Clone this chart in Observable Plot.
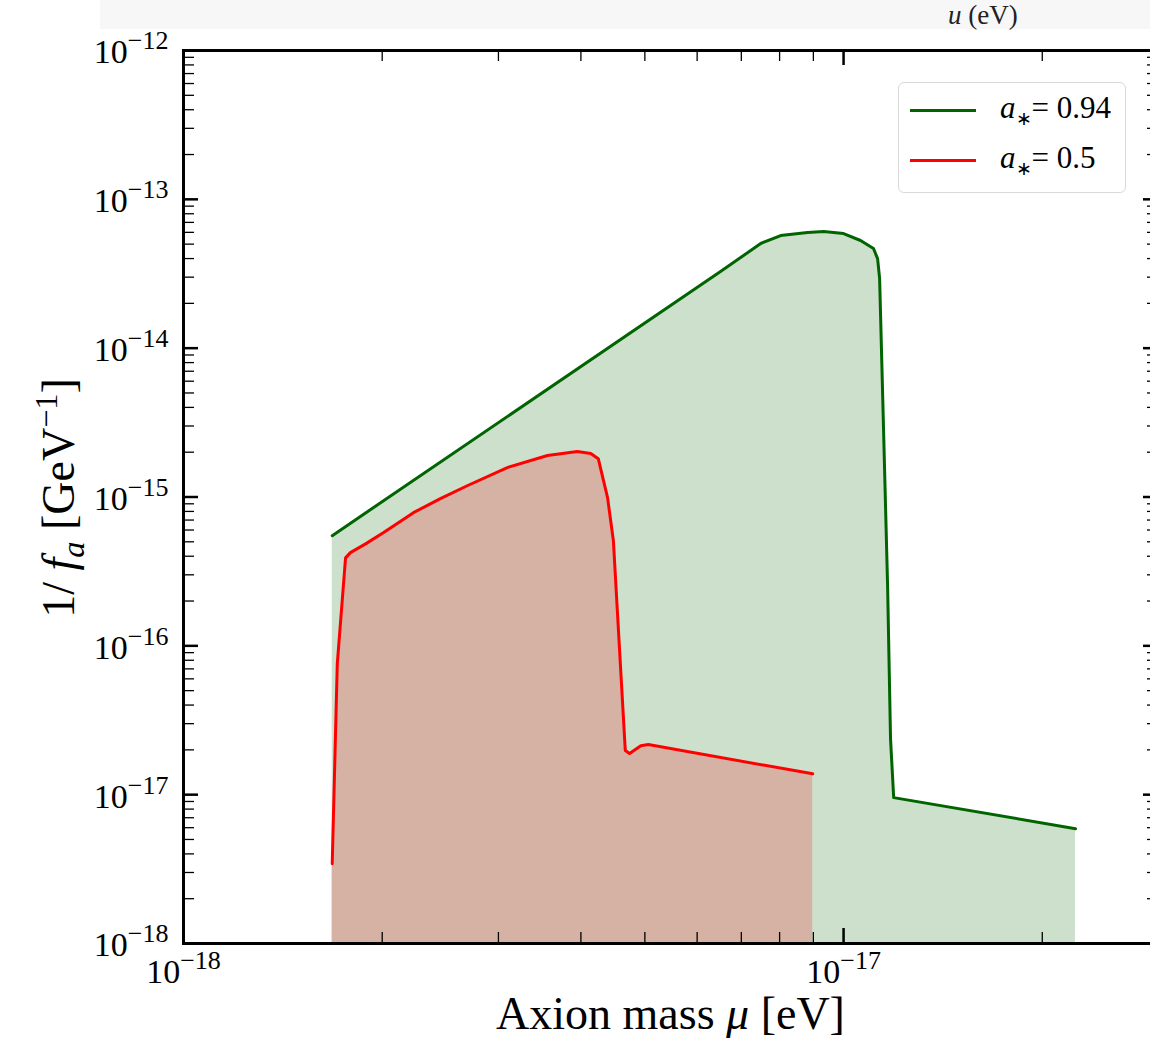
<!DOCTYPE html>
<html><head><meta charset="utf-8">
<script src="https://cdn.jsdelivr.net/npm/d3@7"></script>
<script src="https://cdn.jsdelivr.net/npm/@observablehq/plot@0.6"></script>
<style>
html,body{margin:0;padding:0;background:#fff;overflow:hidden;width:1150px;height:1038px;}
#wrap{position:relative;width:1150px;height:1038px;overflow:hidden;font-family:"Liberation Serif",serif;color:#000;}
#chart{position:absolute;left:0;top:0;width:1160px;}
#chart svg{max-width:none !important;}
#band{position:absolute;left:100px;top:0;width:1050px;height:29px;background:#f7f7f7;}
#band span{position:absolute;left:848px;top:2px;font-size:27px;line-height:27px;color:#222;}
#xtitle{position:absolute;left:0;width:1341px;top:994px;text-align:center;font-size:46px;line-height:40px;white-space:nowrap;}
#ytitle{position:absolute;left:58px;top:498px;transform:translate(-50%,-50%) rotate(-90deg);font-size:46px;white-space:nowrap;}
#legend{position:absolute;left:898px;top:82px;width:228px;height:111px;border:1px solid #d9d9d9;border-radius:6px;background:rgba(255,255,255,0.85);box-sizing:border-box;}
.entry{position:absolute;left:0;height:40px;width:227px;}
.swatch{position:absolute;left:11px;width:66px;height:0;border-top:3px solid;}
.ltext{position:absolute;left:101px;font-size:31px;white-space:nowrap;}
sub,sup{line-height:0;}
</style></head><body>
<div id="wrap">
  <div id="band"><span><i>u</i> (eV)</span></div>
  <div id="chart"></div>
  <div id="xtitle">Axion mass <i>μ</i> [eV]</div>
  <div id="ytitle">1/ <i>f</i><sub style="font-size:0.7em"><i>a</i></sub> [GeV<sup style="font-size:0.7em">−1</sup>]</div>
  <div id="legend"></div>
</div>
<script>
// ---- data ----
const spinLabels = ["0.94", "0.5"];
const lineColors = ["#006400", "#ff0000"];
const fillColors = ["#cde0cc", "#d5b2a3"];

// a* = 0.94
const massA094 = [1.68e-18, 6.51e-18, 7.49e-18, 8.03e-18, 8.82e-18, 9.33e-18, 1.0e-17, 1.061e-17, 1.110e-17, 1.126e-17, 1.134e-17, 1.150e-17, 1.166e-17, 1.178e-17, 1.191e-17, 2.246e-17];
const invFaA094 = [5.5e-16, 3.27e-14, 5.05e-14, 5.71e-14, 5.98e-14, 6.08e-14, 5.89e-14, 5.29e-14, 4.67e-14, 4.00e-14, 2.94e-14, 2.71e-15, 2.54e-16, 2.38e-17, 9.55e-18, 5.91e-18];

// a* = 0.5
const massA05 = [1.68e-18, 1.71e-18, 1.76e-18, 1.79e-18, 1.89e-18, 2.01e-18, 2.23e-18, 2.45e-18, 2.69e-18, 3.10e-18, 3.56e-18, 3.95e-18, 4.14e-18, 4.25e-18, 4.39e-18, 4.48e-18, 4.59e-18, 4.67e-18, 4.74e-18, 4.93e-18, 5.06e-18, 8.98e-18];
const invFaA05 = [3.44e-18, 7.6e-17, 3.9e-16, 4.23e-16, 4.86e-16, 5.77e-16, 7.85e-16, 9.75e-16, 1.19e-15, 1.58e-15, 1.90e-15, 2.02e-15, 1.96e-15, 1.81e-15, 9.9e-16, 5.09e-16, 7.6e-17, 1.98e-17, 1.89e-17, 2.13e-17, 2.17e-17, 1.38e-17];

// axis ticks
const xDomain = [1e-18, 3e-17];
const yDomain = [1e-18, 1e-12];
const xMajor = [1e-18, 1e-17];
const xMinor = [2e-18, 3e-18, 4e-18, 5e-18, 6e-18, 7e-18, 8e-18, 9e-18, 2e-17];
const yMajor = [1e-18, 1e-17, 1e-16, 1e-15, 1e-14, 1e-13, 1e-12];
const yMinorMantissa = [2, 3, 4, 5, 6, 7, 8, 9];
const yMinorDecades = [-18, -17, -16, -15, -14, -13];

// ---- build ----
const yMinor = yMinorDecades.flatMap(k => yMinorMantissa.map(m => +(m + "e" + k)));
const high = massA094.map((x, i) => ({x, y: invFaA094[i]}));
const low = massA05.map((x, i) => ({x, y: invFaA05[i]}));

const W = 1160, H = 1038, mL = 183, mR = 2, mT = 50, mB = 95;
const FW = W - mL - mR, FH = H - mT - mB;
const majLen = 15, minLen = 11;

const plot = Plot.plot({
  width: W, height: H,
  marginLeft: mL, marginRight: mR, marginTop: mT, marginBottom: mB,
  style: {fontFamily: "Liberation Serif, serif", fontSize: "34px", background: "transparent", overflow: "visible", maxWidth: "none"},
  x: {type: "log", domain: xDomain, label: null},
  y: {type: "log", domain: yDomain, label: null},
  marks: [
    Plot.areaY(high, {x: "x", y1: 1e-18, y2: "y", fill: fillColors[0]}),
    Plot.areaY(low, {x: "x", y1: 1e-18, y2: "y", fill: fillColors[1]}),
    Plot.line(high, {x: "x", y: "y", stroke: lineColors[0], strokeWidth: 3}),
    Plot.line(low, {x: "x", y: "y", stroke: lineColors[1], strokeWidth: 3}),
    // inward ticks: bottom/top
    Plot.ruleX(xMajor, {x: d => d, insetTop: FH - majLen, stroke: "black", strokeWidth: 2.5}),
    Plot.ruleX(xMinor, {x: d => d, insetTop: FH - minLen, stroke: "black", strokeWidth: 1.3}),
    Plot.ruleX(xMajor, {x: d => d, insetBottom: FH - majLen, stroke: "black", strokeWidth: 2.5}),
    Plot.ruleX(xMinor, {x: d => d, insetBottom: FH - minLen, stroke: "black", strokeWidth: 1.3}),
    // inward ticks: left/right
    Plot.ruleY(yMajor, {y: d => d, insetRight: FW - majLen, stroke: "black", strokeWidth: 2.5}),
    Plot.ruleY(yMinor, {y: d => d, insetRight: FW - minLen, stroke: "black", strokeWidth: 1.3}),
    Plot.ruleY(yMajor, {y: d => d, insetLeft: FW - majLen, stroke: "black", strokeWidth: 2.5}),
    Plot.ruleY(yMinor, {y: d => d, insetLeft: FW - minLen, stroke: "black", strokeWidth: 1.3}),
    Plot.axisX({ticks: xMajor, tickSize: 0, tickPadding: 0, tickFormat: d => "\u2212" + Math.round(-Math.log10(d)), fontSize: 34, label: null}),
    Plot.axisY({ticks: yMajor, tickSize: 0, tickPadding: 15, tickFormat: d => "\u2212" + Math.round(-Math.log10(d)), fontSize: 34, label: null}),
    Plot.frame({stroke: "black", strokeWidth: 3})
  ]
});
document.getElementById("chart").appendChild(plot);

// mathtext-like labels 10^{exp}
function sup(sel, baseDy) {
  plot.querySelectorAll(sel).forEach(t => {
    const exp = t.textContent;
    t.textContent = "";
    t.removeAttribute("dy");
    const NS = "http://www.w3.org/2000/svg";
    const a = document.createElementNS(NS, "tspan");
    a.setAttribute("dy", baseDy);
    a.textContent = "10";
    const b = document.createElementNS(NS, "tspan");
    b.setAttribute("dy", -14);
    b.setAttribute("font-size", 26);
    b.textContent = exp;
    t.appendChild(a); t.appendChild(b);
  });
}
sup('g[aria-label="x-axis tick label"] text', 15);
sup('g[aria-label="y-axis tick label"] text', 2);

// legend
const legend = document.getElementById("legend");
spinLabels.forEach((s, i) => {
  const e = document.createElement("div");
  e.className = "entry";
  e.style.top = (i * 50 + 6) + "px";
  e.innerHTML = `<div class="swatch" style="top:20px;border-color:${lineColors[i]}"></div>` +
    `<div class="ltext" style="top:1px"><i>a</i><sub style="font-size:0.6em;vertical-align:-0.35em">∗</sub>= ${s}</div>`;
  legend.appendChild(e);
});
</script>
</body></html>
